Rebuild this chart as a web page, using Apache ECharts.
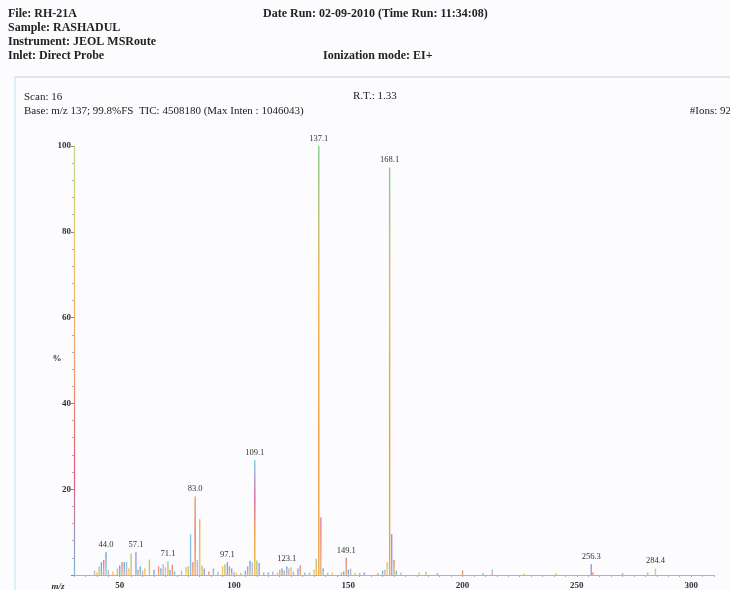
<!DOCTYPE html>
<html>
<head>
<meta charset="utf-8">
<script src="https://cdn.jsdelivr.net/npm/echarts@6/dist/echarts.min.js"></script>
<style>
  html, body { margin: 0; padding: 0; background: #fcfcfe; }
  #chart { width: 730px; height: 590px; }
</style>
</head>
<body>
<div id="chart"></div>
<script>
  // m/z of every peak (labelled peaks carry their decimal mass)
  var peakMz = [39, 40, 41, 42, 43, 44.0, 45, 47, 49, 50, 51, 52, 53, 54, 55, 57.1, 58, 59, 60, 61, 63, 65,
    67, 68, 69, 70, 71.1, 72, 73, 74, 77, 79, 80, 81, 82, 83.0, 84, 85, 86, 87, 89, 91, 93, 95, 96, 97.1,
    98, 99, 100, 101, 103, 105, 106, 107, 108, 109.1, 110, 111, 113, 115, 117, 119, 120, 121, 122, 123.1,
    124, 125, 126, 128, 129, 131, 133, 135, 136, 137.1, 138, 139, 141, 143, 147, 148, 149.1, 150, 151,
    153, 155, 157, 163, 165, 166, 167, 168.1, 169, 170, 171, 173, 181, 184, 189, 200, 209, 213, 227,
    241, 256.3, 257, 270, 281, 284.4];
  // relative intensity, %
  var peakIntensity = [1.0, 0.6, 2.0, 3.0, 3.5, 5.3, 1.2, 0.8, 1.5, 2.2, 3.0, 3.0, 3.0, 1.5, 5.0, 5.3, 1.2, 2.0, 1.0, 1.5, 3.6, 1.2,
    2.0, 1.5, 2.5, 1.8, 3.2, 1.2, 2.4, 0.8, 1.0, 1.8, 2.0, 9.5, 3.0, 18.3, 3.5, 13.0, 2.2, 1.5, 0.8, 1.5, 0.8, 2.0, 2.5, 3.0,
    2.0, 1.5, 0.8, 0.5, 0.5, 1.0, 2.0, 3.3, 3.0, 26.8, 3.4, 2.8, 0.6, 0.6, 0.8, 0.6, 1.2, 1.5, 1.0, 2.0,
    1.5, 1.8, 0.8, 1.5, 2.2, 0.5, 0.6, 1.3, 3.8, 100, 13.4, 1.5, 0.5, 0.5, 0.6, 0.8, 4.0, 1.2, 1.5,
    0.5, 0.5, 0.6, 0.4, 1.0, 1.2, 3.0, 95, 9.5, 3.5, 1.0, 0.5, 0.6, 0.8, 0.4, 1.0, 0.4, 1.2, 0.3,
    0.4, 2.5, 0.6, 0.4, 0.6, 1.5];
  var labelledPeaks = [44.0, 57.1, 71.1, 83.0, 97.1, 109.1, 123.1, 137.1, 149.1, 168.1, 256.3, 284.4];
  var xTickLabels = [50, 100, 150, 200, 250, 300];
  var yTickLabels = [20, 40, 60, 80, 100];

  var serif = '"Liberation Serif", "DejaVu Serif", serif';
  var palette = [
    ['#7fcfe6', '#f2a2c2'], ['#f2b15a', '#f4d36a'], ['#98d18a', '#e9bf58'],
    ['#a98ae0', '#7fb2ea'], ['#e77a9a', '#f0b060'], ['#6e9ce6', '#8fd4c6']
  ];
  function grad(stops) {
    return new echarts.graphic.LinearGradient(0, 0, 0, 1, stops.map(function (c, i) {
      return { offset: i / (stops.length - 1), color: c };
    }));
  }

  var xTicks = [];
  for (var t = 30; t <= 310; t += 5) xTicks.push(t);

  var barData = peakMz.map(function (mz, i) {
    var p = palette[i % palette.length];
    var color = grad([p[0], p[1]]);
    if (mz === 137.1 || mz === 168.1) color = grad(['#7fcf8a', '#f3b04a', '#f39a3e', '#f2a050']);
    if (mz === 109.1) color = grad(['#7fcfe6', '#d7649a', '#f0a040', '#e8c050']);
    if (mz === 83.0) color = grad(['#f0a060', '#e8707a', '#f0b050']);
    if (mz === 85) color = grad(['#f2b04a', '#f2c060']);
    if (mz === 81) color = grad(['#7fc8e6', '#90b8e8']);
    return {
      value: [mz, peakIntensity[i]],
      itemStyle: { color: color },
      label: { show: labelledPeaks.indexOf(mz) >= 0 }
    };
  });

  var chart = echarts.init(document.getElementById('chart'));
  var option = {
    backgroundColor: '#fcfcfe',
    animation: false,
    grid: { left: 74, right: 16, top: 146, bottom: 14 },
    xAxis: {
      type: 'value', min: 30, max: 310,
      axisLine: { lineStyle: { color: '#a8b3c6', width: 1 } },
      axisTick: { show: true, customValues: xTicks, length: 2, lineStyle: { color: '#9fb0c8' } },
      axisLabel: {
        customValues: xTickLabels, margin: 6,
        fontFamily: serif, fontWeight: 'bold', fontSize: 9, color: '#333'
      },
      splitLine: { show: false }
    },
    yAxis: {
      type: 'value', min: 0, max: 100, interval: 20,
      axisLine: { show: true, lineStyle: { color: grad(['#b9d98a', '#e8c46a', '#f0a070', '#e45a7a', '#7fb5e0']), width: 1.2 } },
      axisTick: { show: true, length: 3, lineStyle: { color: '#888' } },
      minorTick: { show: true, splitNumber: 5, length: 2, lineStyle: { color: '#aaa' } },
      axisLabel: {
        margin: 3, fontFamily: serif, fontWeight: 'bold', fontSize: 9, color: '#333',
        formatter: function (v) { return yTickLabels.indexOf(v) >= 0 ? String(v) : ''; }
      },
      splitLine: { show: false }
    },
    series: [{
      type: 'bar',
      barWidth: 1.4,
      data: barData,
      label: {
        position: 'top', distance: 3,
        fontFamily: serif, fontSize: 8.5, color: '#333',
        formatter: function (p) { return p.value[0].toFixed(1); }
      }
    }],
    graphic: [
      { type: 'line', shape: { x1: 15, y1: 77, x2: 730, y2: 77 }, style: { stroke: '#c9cdd8', lineWidth: 1 } },
      { type: 'line', shape: { x1: 15, y1: 77, x2: 15, y2: 590 }, style: { stroke: '#bfe3ea', lineWidth: 1 } },
      { type: 'text', x: 8, y: 14, style: { text: 'File: RH-21A', font: 'bold 12px ' + serif, fill: '#222', textVerticalAlign: 'middle' } },
      { type: 'text', x: 8, y: 28, style: { text: 'Sample: RASHADUL', font: 'bold 12px ' + serif, fill: '#222', textVerticalAlign: 'middle' } },
      { type: 'text', x: 8, y: 42, style: { text: 'Instrument: JEOL MSRoute', font: 'bold 12px ' + serif, fill: '#222', textVerticalAlign: 'middle' } },
      { type: 'text', x: 8, y: 56, style: { text: 'Inlet: Direct Probe', font: 'bold 12px ' + serif, fill: '#222', textVerticalAlign: 'middle' } },
      { type: 'text', x: 263, y: 14, style: { text: 'Date Run: 02-09-2010 (Time Run: 11:34:08)', font: 'bold 12px ' + serif, fill: '#222', textVerticalAlign: 'middle' } },
      { type: 'text', x: 323, y: 56, style: { text: 'Ionization mode: EI+', font: 'bold 12px ' + serif, fill: '#222', textVerticalAlign: 'middle' } },
      { type: 'text', x: 24, y: 97, style: { text: 'Scan: 16', font: '11px ' + serif, fill: '#222', textVerticalAlign: 'middle' } },
      { type: 'text', x: 24, y: 111, style: { text: 'Base: m/z 137; 99.8%FS  TIC: 4508180 (Max Inten : 1046043)', font: '11px ' + serif, fill: '#222', textVerticalAlign: 'middle' } },
      { type: 'text', x: 353, y: 96, style: { text: 'R.T.: 1.33', font: '11px ' + serif, fill: '#222', textVerticalAlign: 'middle' } },
      { type: 'text', x: 731, y: 111, style: { text: '#Ions: 92', font: '11px ' + serif, fill: '#222', textAlign: 'right', textVerticalAlign: 'middle' } },
      { type: 'text', x: 57, y: 359, style: { text: '%', font: 'bold 9px ' + serif, fill: '#333', textAlign: 'center', textVerticalAlign: 'middle' } },
      { type: 'text', x: 58, y: 587, style: { text: 'm/z', font: 'bold italic 9px ' + serif, fill: '#333', textAlign: 'center', textVerticalAlign: 'middle' } }
    ]
  };
  chart.setOption(option);
</script>
</body>
</html>
